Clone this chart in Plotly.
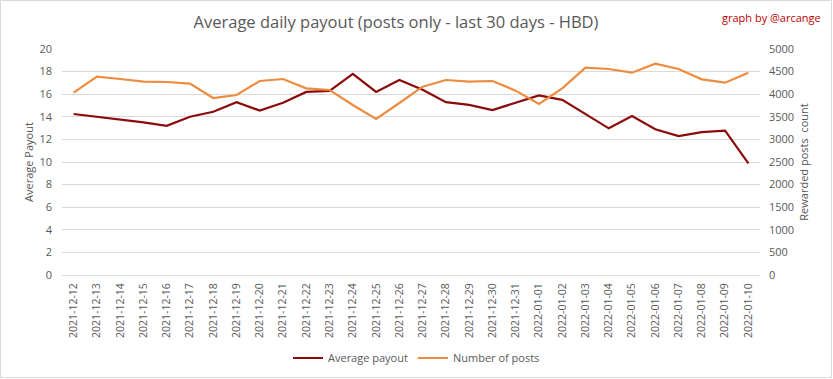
import plotly.graph_objects as go

dates = ["2021-12-12","2021-12-13","2021-12-14","2021-12-15","2021-12-16","2021-12-17",
         "2021-12-18","2021-12-19","2021-12-20","2021-12-21","2021-12-22","2021-12-23",
         "2021-12-24","2021-12-25","2021-12-26","2021-12-27","2021-12-28","2021-12-29",
         "2021-12-30","2021-12-31","2022-01-01","2022-01-02","2022-01-03","2022-01-04",
         "2022-01-05","2022-01-06","2022-01-07","2022-01-08","2022-01-09","2022-01-10"]

avg_payout = [14.25, 14.0, 13.78, 13.5, 13.2, 14.0, 14.45, 15.3, 14.55, 15.25,
              16.2, 16.3, 17.8, 16.2, 17.25, 16.4, 15.3, 15.05, 14.6, 15.25,
              15.9, 15.5, 14.25, 12.98, 14.07, 12.9, 12.3, 12.65, 12.77, 9.88]

num_posts = [4033, 4387, 4336, 4277, 4270, 4233, 3916, 3982, 4292, 4336,
             4130, 4093, 3761, 3451, 3805, 4166, 4314, 4277, 4292, 4078,
             3783, 4130, 4587, 4557, 4476, 4675, 4557, 4329, 4255, 4476]

FONT = "Open Sans"
GRAY = "#595959"

fig = go.Figure()
fig.add_trace(go.Scatter(x=dates, y=avg_payout, name="Average payout", mode="lines",
                         line=dict(color="#8B0A0A", width=2.2)))
fig.add_trace(go.Scatter(x=dates, y=num_posts, name="Number of posts", mode="lines",
                         line=dict(color="#ED8B3F", width=2.2), yaxis="y2"))

W, H = 833, 379
ml, mr, mt, mb = 62, 73, 49, 104
pw, ph = W - ml - mr, H - mt - mb

fig.update_layout(
    width=W, height=H,
    margin=dict(l=ml, r=mr, t=mt, b=mb),
    paper_bgcolor="white", plot_bgcolor="white",
    font=dict(family=FONT, color=GRAY, size=11),
    title=dict(text="Average daily payout (posts only - last 30 days - HBD)",
               x=(396 - ml) / pw, xref="paper", xanchor="center", y=1 - 22 / H, yanchor="middle",
               font=dict(family=FONT, size=16.5, color=GRAY)),
    xaxis=dict(type="category", tickangle=-90, tickfont=dict(size=10.5, color=GRAY),
               range=[-0.5, len(dates) - 0.5], automargin=False, ticklabelstandoff=3,
               showgrid=False, showline=True, linecolor="#D9D9D9", ticks=""),
    yaxis=dict(range=[0, 20], dtick=2, gridcolor="#D9D9D9", zeroline=False,
               tickfont=dict(size=11, color=GRAY), ticks="", automargin=False,
               ticklabelstandoff=9,
               title=dict(text="Average Payout", font=dict(size=11, color=GRAY), standoff=3)),
    yaxis2=dict(range=[0, 5000], dtick=500, overlaying="y", side="right",
                showgrid=False, zeroline=False, tickfont=dict(size=11, color=GRAY), ticks="",
                automargin=False, ticklabelstandoff=8,
                title=dict(text="Rewarded posts  count", font=dict(size=11, color=GRAY), standoff=7)),
    legend=dict(orientation="h", x=0.5, xanchor="center", xref="container",
                y=1 - 358 / H, yanchor="middle", yref="container",
                font=dict(size=11, color=GRAY)),
    showlegend=True,
)

fig.add_annotation(text="graph by @arcange", xref="paper", yref="paper",
                   x=(W - 10 - ml) / pw, y=1 + (mt - 17) / ph, xanchor="right", yanchor="middle",
                   showarrow=False, font=dict(family=FONT, size=11, color="#C00000"))

fig.add_shape(type="rect", xref="paper", yref="paper",
              x0=-(ml - 0.5) / pw, x1=1 + (mr - 1.5) / pw,
              y0=-(mb - 1.5) / ph, y1=1 + (mt - 0.5) / ph,
              line=dict(color="#D9D9D9", width=1), layer="below")

fig.write_html("out.html", config={"displayModeBar": False},
               post_script="document.body.style.margin='0';document.body.style.overflow='hidden';")
